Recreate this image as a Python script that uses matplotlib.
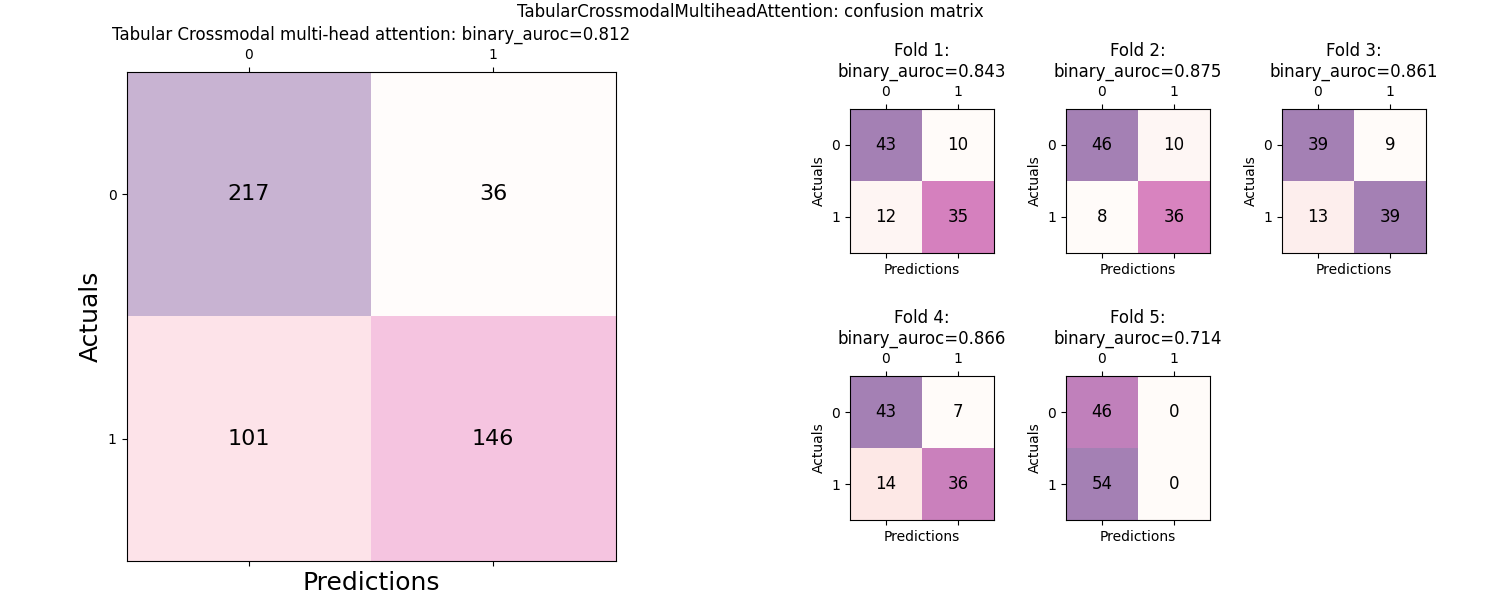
import matplotlib
matplotlib.use("Agg")
import matplotlib.pyplot as plt
import numpy as np

main_title = "Tabular Crossmodal multi-head attention: binary_auroc=0.812"
suptitle = "TabularCrossmodalMultiheadAttention: confusion matrix"
main_cm = [[217, 36], [101, 146]]

fold_names = ["Fold 1", "Fold 2", "Fold 3", "Fold 4", "Fold 5"]
fold_auroc = [0.843, 0.875, 0.861, 0.866, 0.714]
fold_cms = [
    [[43, 10], [12, 35]],
    [[46, 10], [8, 36]],
    [[39, 9], [13, 39]],
    [[43, 7], [14, 36]],
    [[46, 0], [54, 0]],
]

fig = plt.figure(figsize=(15, 6), dpi=100)
fig.suptitle(suptitle, fontsize=12, y=0.995)

ax = fig.add_axes([126/1500, 39/600, 490/1500, 489/600])
cm = np.array(main_cm)
ax.matshow(cm, cmap="RdPu", alpha=0.3)
for i in range(2):
    for j in range(2):
        ax.text(j, i, str(cm[i, j]), va="center", ha="center", fontsize=16)
ax.set_xlabel("Predictions", fontsize=18)
ax.set_ylabel("Actuals", fontsize=18)
ax.set_title(main_title, fontsize=12)
ax.set_xticks([0, 1])
ax.set_yticks([0, 1])

lefts = [850/1500, 1066/1500, 1282/1500]
bottoms = [347/600, 80/600]
for k, (name, auc, fcm) in enumerate(zip(fold_names, fold_auroc, fold_cms)):
    r, c = divmod(k, 3)
    a = fig.add_axes([lefts[c], bottoms[r], 144/1500, 144/600])
    m = np.array(fcm)
    a.matshow(m, cmap="RdPu", alpha=0.5)
    for i in range(2):
        for j in range(2):
            a.text(j, i, str(m[i, j]), va="center", ha="center", fontsize=12)
    a.set_xlabel("Predictions", fontsize=10)
    a.set_ylabel("Actuals", fontsize=10)
    a.set_title(f"{name}:\nbinary_auroc={auc:.3f}", fontsize=12)
    a.set_xticks([0, 1])
    a.set_yticks([0, 1])

fig.savefig("out.png", dpi=100)
